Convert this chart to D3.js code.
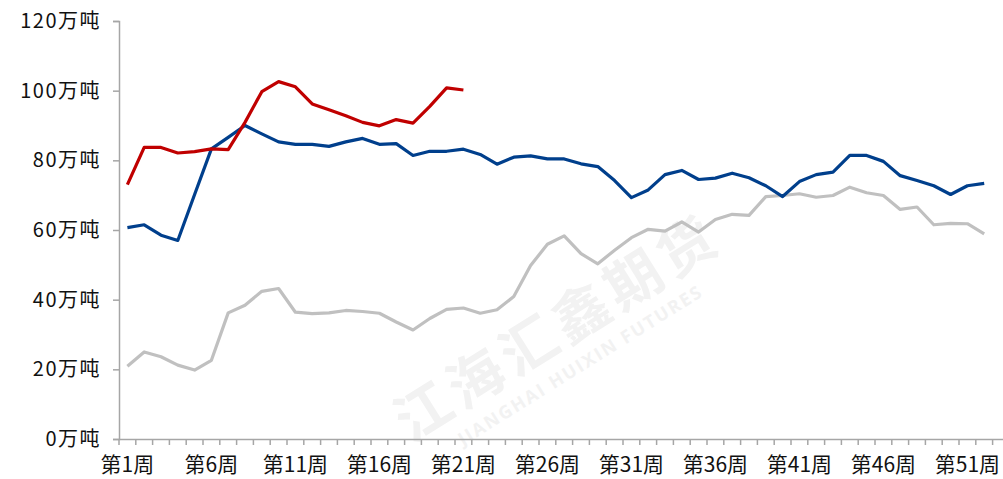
<!DOCTYPE html>
<html><head><meta charset="utf-8">
<script src="https://cdn.jsdelivr.net/npm/d3@7"></script>
<style>
html,body{margin:0;padding:0;background:#fff;}
svg{display:block;}
</style></head>
<body>
<svg id="c" width="1003" height="479"></svg>
<script>
const weeks = d3.range(1, 54);
const tickLabelWeeks = [1, 6, 11, 16, 21, 26, 31, 36, 41, 46, 51];
const yTicks = [0, 20, 40, 60, 80, 100, 120];
const seriesRed = [73.0, 83.7, 83.7, 82.1, 82.5, 83.3, 83.1, 90.9, 99.7, 102.6, 101.1, 96.2, 94.5, 92.8, 90.9, 89.9, 91.7, 90.7, 95.5, 100.8, 100.2];
const seriesBlue = [60.7, 61.5, 58.5, 57.0, 70.2, 83.3, 86.6, 90.0, 87.6, 85.3, 84.6, 84.6, 84.0, 85.3, 86.3, 84.6, 84.8, 81.4, 82.6, 82.6, 83.2, 81.7, 78.9, 80.9, 81.3, 80.4, 80.4, 79.0, 78.2, 74.2, 69.3, 71.5, 75.9, 77.1, 74.5, 74.9, 76.3, 75.0, 72.7, 69.6, 73.9, 75.9, 76.6, 81.4, 81.4, 79.7, 75.6, 74.2, 72.7, 70.2, 72.7, 73.4];
const seriesGray = [20.9, 25.0, 23.6, 21.2, 19.8, 22.6, 36.2, 38.4, 42.4, 43.2, 36.4, 36.0, 36.2, 36.9, 36.6, 36.1, 33.6, 31.3, 34.6, 37.2, 37.6, 36.1, 37.1, 40.9, 49.8, 55.9, 58.3, 53.2, 50.3, 54.2, 57.8, 60.2, 59.7, 62.3, 59.4, 63.0, 64.5, 64.2, 69.6, 69.9, 70.4, 69.4, 69.9, 72.3, 70.7, 69.9, 65.9, 66.6, 61.5, 61.9, 61.8, 58.9];

const svg = d3.select('#c');
const plotLeft = 119, plotTop = 21, plotBottom = 439;
const step = 16.8;
const x = d3.scaleBand().domain(weeks).range([plotLeft, plotLeft + weeks.length * step]).paddingInner(0).paddingOuter(0);
const y = d3.scaleLinear().domain([0, 120]).range([plotBottom, plotTop]);
const font = '"Noto Sans CJK SC", "Noto Sans", sans-serif';
const axisColor = '#a6a6a6';

// watermark
const wm = svg.append('g').attr('transform', 'translate(568,345) rotate(-32)').attr('fill', '#f2f2f2');
wm.append('text').attr('text-anchor', 'middle').attr('font-family', font).attr('font-weight', 'bold')
  .attr('font-size', 56).attr('letter-spacing', 6).text('江海汇鑫期货');
wm.append('text').attr('text-anchor', 'middle').attr('font-family', '"Open Sans", sans-serif').attr('font-weight', 'bold')
  .attr('font-size', 18).attr('letter-spacing', 2).attr('y', 30).text('JIANGHAI HUIXIN FUTURES');

// y axis
const yAxis = svg.append('g').attr('transform', `translate(${plotLeft},0)`)
  .call(d3.axisLeft(y).tickValues(yTicks).tickSize(6).tickPadding(12).tickFormat(d => d + '万吨'));
yAxis.select('.domain').attr('stroke', axisColor).attr('stroke-width', 1.5);
yAxis.selectAll('.tick line').attr('stroke', axisColor).attr('stroke-width', 1.5);
yAxis.selectAll('.tick text').attr('font-family', font).attr('font-size', 20).attr('fill', '#111').attr('letter-spacing', 1.5);

// x axis
const xAxis = svg.append('g').attr('transform', `translate(0,${plotBottom})`)
  .call(d3.axisBottom(x).tickValues(tickLabelWeeks).tickSize(0).tickPadding(18).tickFormat(d => '第' + d + '周'));
xAxis.select('.domain').attr('stroke', axisColor).attr('stroke-width', 1.5);
xAxis.selectAll('.tick text').attr('font-family', font).attr('font-size', 21).attr('fill', '#111');
xAxis.selectAll('.bt').data(weeks.concat([null])).enter().append('line')
  .attr('x1', d => d === null ? x.range()[1] : x(d))
  .attr('x2', d => d === null ? x.range()[1] : x(d))
  .attr('y1', 0).attr('y2', 6).attr('stroke', axisColor).attr('stroke-width', 1.5);

// lines
const line = d3.line().x((d, i) => x(weeks[i]) + x.bandwidth() / 2).y(d => y(d));
[[seriesGray, '#c0c0c0'], [seriesBlue, '#003f8c'], [seriesRed, '#c00000']].forEach(([data, color]) => {
  svg.append('path').datum(data).attr('d', line).attr('fill', 'none')
    .attr('stroke', color).attr('stroke-width', 3.2).attr('stroke-linejoin', 'round');
});
</script>
</body></html>
